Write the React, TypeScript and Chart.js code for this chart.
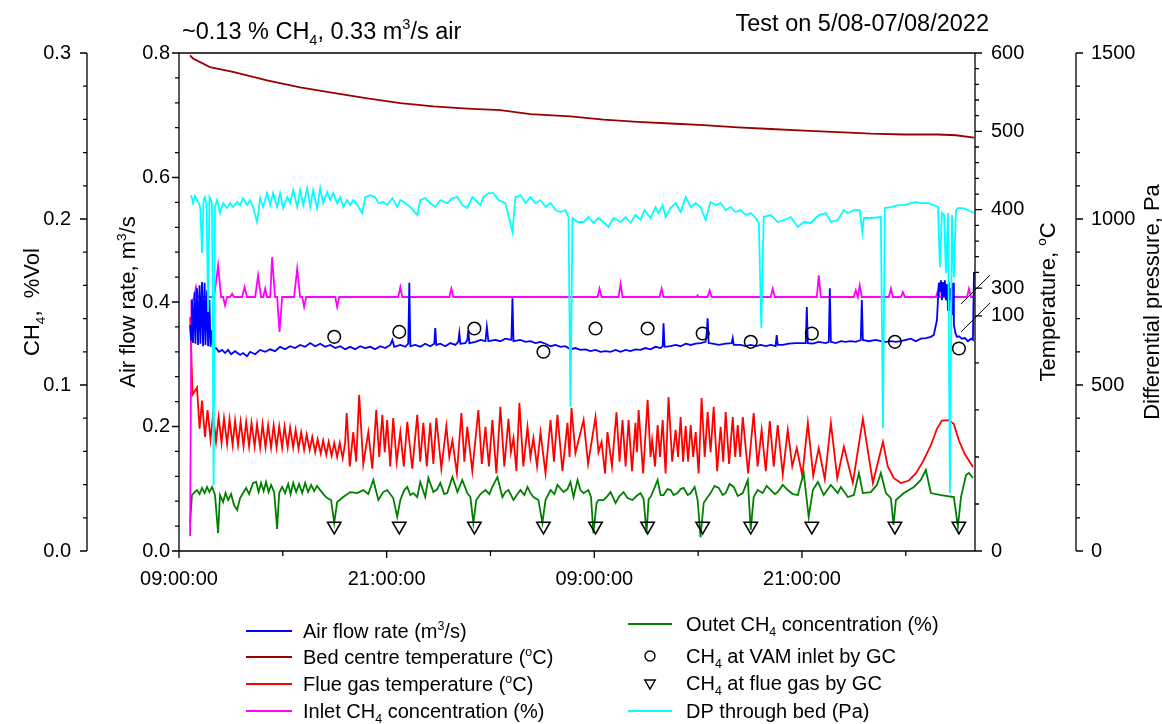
import React, { useEffect, useRef } from "react";
import { Chart, registerables, LinearScale } from "chart.js";

Chart.register(...registerables);

type Pt = [number, number]; // [hours since 09:00 on 5/08, value]

// ---------- time axis (hours elapsed since 09:00:00) ----------
const timeMajorTicks = [0, 12, 24, 36];
const timeMinorTicks = [6, 18, 30, 42];
const timeTickLabels = ["09:00:00", "21:00:00", "09:00:00", "21:00:00"];

// ---------- value axes ----------
const airTicks = [0, 0.2, 0.4, 0.6, 0.8];
const ch4Ticks = [0, 0.1, 0.2, 0.3];
const tempLowTicks = [0, 100];
const tempHighTicks = [300, 400, 500, 600];
const dpTicks = [0, 500, 1000, 1500];

// ---------- series ----------
const airFlowRate: Pt[] = [
  [0.64, 0.363], [0.7, 0.339], [0.75, 0.403], [0.81, 0.334], [0.9, 0.416], [0.95, 0.333], [1.04, 0.422], [1.1, 0.331],
  [1.19, 0.427], [1.24, 0.333], [1.33, 0.432], [1.39, 0.329], [1.48, 0.431], [1.53, 0.331], [1.62, 0.419], [1.68, 0.329],
  [1.76, 0.403], [1.82, 0.328], [1.91, 0.355], [1.97, 0.324], [2.14, 0.326], [2.31, 0.32], [2.49, 0.323], [2.66, 0.318],
  [2.84, 0.323], [3.01, 0.316], [3.24, 0.321], [3.53, 0.315], [3.7, 0.318], [3.93, 0.313], [4.11, 0.32], [4.4, 0.316],
  [4.69, 0.323], [4.98, 0.32], [5.27, 0.324], [5.55, 0.321], [5.84, 0.328], [6.13, 0.324], [6.42, 0.329], [6.71, 0.326],
  [7.0, 0.331], [7.29, 0.328], [7.58, 0.334], [7.87, 0.329], [8.16, 0.333], [8.45, 0.328], [8.74, 0.331], [9.03, 0.326],
  [9.32, 0.329], [9.6, 0.324], [9.89, 0.328], [10.18, 0.324], [10.47, 0.329], [10.76, 0.326], [11.05, 0.328], [11.34, 0.324],
  [11.63, 0.329], [11.92, 0.326], [12.21, 0.331], [12.33, 0.339], [12.44, 0.328], [12.79, 0.331], [13.08, 0.328], [13.25, 0.333],
  [13.31, 0.431], [13.37, 0.329], [13.66, 0.331], [13.94, 0.328], [14.23, 0.333], [14.52, 0.329], [14.75, 0.333], [14.81, 0.358],
  [14.87, 0.331], [15.1, 0.333], [15.39, 0.329], [15.68, 0.334], [15.97, 0.331], [16.14, 0.336], [16.2, 0.35], [16.26, 0.333],
  [16.55, 0.334], [16.66, 0.339], [16.72, 0.355], [16.78, 0.334], [17.13, 0.336], [17.42, 0.339], [17.71, 0.337], [17.79, 0.36],
  [17.88, 0.337], [18.28, 0.339], [18.57, 0.337], [18.86, 0.341], [19.21, 0.339], [19.27, 0.406], [19.33, 0.337], [19.73, 0.339],
  [20.02, 0.336], [20.31, 0.337], [20.6, 0.334], [20.89, 0.336], [21.18, 0.333], [21.47, 0.329], [21.76, 0.331], [22.04, 0.328],
  [22.33, 0.329], [22.62, 0.324], [22.91, 0.326], [23.2, 0.323], [23.49, 0.324], [23.78, 0.321], [24.07, 0.323], [24.36, 0.32],
  [24.65, 0.321], [24.94, 0.32], [25.23, 0.323], [25.52, 0.32], [25.81, 0.323], [26.09, 0.321], [26.38, 0.324], [26.67, 0.323],
  [26.96, 0.326], [27.25, 0.324], [27.54, 0.328], [27.83, 0.326], [27.95, 0.329], [28.0, 0.366], [28.06, 0.328], [28.41, 0.329],
  [28.7, 0.331], [28.99, 0.329], [29.28, 0.333], [29.57, 0.331], [29.86, 0.333], [30.14, 0.334], [30.43, 0.336], [30.49, 0.349],
  [30.55, 0.374], [30.61, 0.334], [30.84, 0.333], [31.19, 0.331], [31.59, 0.333], [31.94, 0.334], [32.0, 0.342], [32.06, 0.331],
  [32.46, 0.331], [32.75, 0.329], [33.04, 0.331], [33.33, 0.329], [33.62, 0.331], [33.91, 0.329], [34.2, 0.331], [34.48, 0.329],
  [34.54, 0.347], [34.6, 0.331], [34.89, 0.331], [35.24, 0.333], [35.64, 0.334], [35.93, 0.334], [36.22, 0.334], [36.28, 0.392],
  [36.34, 0.334], [36.63, 0.333], [36.97, 0.336], [37.38, 0.334], [37.55, 0.336], [37.61, 0.422], [37.67, 0.336], [37.96, 0.334],
  [38.25, 0.337], [38.53, 0.336], [38.82, 0.337], [39.11, 0.336], [39.4, 0.339], [39.46, 0.403], [39.52, 0.339], [39.87, 0.337],
  [40.27, 0.339], [40.56, 0.337], [40.85, 0.336], [41.14, 0.337], [41.43, 0.336], [41.72, 0.337], [42.01, 0.339], [42.3, 0.341],
  [42.58, 0.337], [42.87, 0.341], [43.16, 0.342], [43.45, 0.344], [43.62, 0.347], [43.8, 0.371], [43.91, 0.431], [43.97, 0.416],
  [44.03, 0.435], [44.09, 0.403], [44.15, 0.432], [44.21, 0.41], [44.26, 0.435], [44.32, 0.403], [44.38, 0.429], [44.44, 0.387],
  [44.49, 0.432], [44.55, 0.403], [44.61, 0.422], [44.67, 0.379], [44.73, 0.431], [44.78, 0.363], [44.87, 0.35], [44.96, 0.344],
  [45.07, 0.345], [45.25, 0.341], [45.42, 0.342], [45.59, 0.337], [45.77, 0.341], [45.88, 0.339], [45.94, 0.448], [45.97, 0.443],
];

const bedCentreTemp: Pt[] = [
  [0.64, 597], [0.81, 593], [1.79, 582], [3.12, 576], [5.09, 565], [7.0, 556], [8.91, 549], [10.88, 542], [12.79, 536],
  [14.7, 532], [16.66, 529], [18.57, 527], [20.31, 522], [22.62, 519], [24.53, 515], [26.5, 512], [28.41, 510], [30.32, 508],
  [32.29, 505], [34.2, 503], [36.1, 501], [38.07, 499], [39.98, 497], [41.89, 496], [43.86, 496], [44.9, 495], [45.94, 492],
];

const flueGasTemp: Pt[] = [
  [0.65, 99.6], [0.78, 66.5], [1.04, 69.5], [1.19, 52], [1.33, 64], [1.5, 48.5], [1.65, 60], [1.82, 47.5], [1.97, 58],
  [2.14, 46.5], [2.29, 57], [2.46, 46], [2.6, 56.5], [2.78, 45.5], [2.92, 56], [3.1, 45], [3.24, 55.5], [3.41, 45],
  [3.56, 55], [3.73, 44.5], [3.88, 55], [4.05, 44.5], [4.19, 54.5], [4.37, 44.5], [4.51, 54], [4.69, 44], [4.83, 54],
  [5.0, 44], [5.15, 53.5], [5.32, 44], [5.47, 53.5], [5.64, 44], [5.79, 53], [5.96, 44], [6.1, 53], [6.28, 44],
  [6.42, 52.5], [6.6, 44], [6.74, 51.5], [6.91, 43.5], [7.06, 50.5], [7.23, 43], [7.38, 49.5], [7.55, 43], [7.7, 48.5],
  [7.87, 42], [8.01, 47.5], [8.19, 41.5], [8.33, 47], [8.51, 41], [8.65, 46.5], [8.82, 40.5], [8.97, 46], [9.14, 40],
  [9.29, 46], [9.46, 39.5], [9.6, 46], [9.69, 58.7], [9.87, 36], [10.07, 50.6], [10.24, 38], [10.41, 66.4], [10.65, 37],
  [10.94, 50.6], [11.17, 35], [11.4, 60], [11.57, 40], [11.75, 57.9], [11.89, 42], [12.03, 55.7], [12.21, 36], [12.38, 56.6],
  [12.58, 38], [12.79, 50.6], [12.99, 36], [13.19, 54.9], [13.48, 35], [13.77, 57.9], [13.94, 38], [14.12, 54.5], [14.32, 36],
  [14.52, 54.5], [14.7, 37], [14.87, 56.6], [15.16, 35], [15.45, 53.2], [15.62, 40], [15.8, 47], [16.06, 33], [16.32, 58.7],
  [16.49, 38], [16.66, 52.8], [16.95, 34], [17.3, 60], [17.5, 37], [17.71, 52.8], [17.91, 36], [18.11, 55.7], [18.34, 33],
  [18.57, 61.3], [18.8, 36], [19.04, 56.2], [19.18, 42], [19.33, 48.1], [19.5, 34], [19.67, 63], [19.9, 36], [20.14, 52.8],
  [20.31, 40], [20.48, 48.1], [20.69, 36], [20.89, 50.6], [21.18, 33], [21.47, 55.7], [21.67, 38], [21.87, 57.9], [22.16, 34],
  [22.45, 54.5], [22.57, 40], [22.68, 60.9], [22.91, 41.7], [23.38, 55.7], [23.64, 37], [24.07, 57], [24.24, 42], [24.42, 46.4],
  [24.62, 33], [24.76, 50.6], [25.02, 36], [25.28, 59], [25.46, 38], [25.63, 55.7], [25.81, 36], [25.98, 55.7], [26.18, 34],
  [26.38, 54.5], [26.47, 42], [26.56, 60], [26.82, 33], [27.08, 64.3], [27.25, 40], [27.34, 47.2], [27.51, 36], [27.66, 53.6],
  [27.8, 40], [27.95, 55.7], [28.12, 33], [28.29, 65.5], [28.5, 38], [28.7, 51.5], [28.84, 40], [28.99, 57], [29.13, 38],
  [29.28, 53.2], [29.42, 38], [29.57, 53.6], [29.71, 40], [29.86, 50.6], [30.03, 33], [30.2, 65.1], [30.38, 40], [30.55, 59.1],
  [30.72, 42], [30.9, 61.3], [31.1, 34], [31.3, 52.8], [31.45, 38], [31.59, 59.1], [31.79, 37], [32.0, 57], [32.14, 40],
  [32.29, 53.6], [32.43, 40], [32.58, 57], [32.89, 33], [33.21, 58.7], [33.44, 36], [33.67, 51.5], [33.91, 34], [34.14, 55.3],
  [34.37, 36], [34.6, 53.6], [34.89, 32.5], [35.18, 51.5], [35.44, 36], [35.7, 43.8], [36.02, 32], [36.34, 54.5], [36.65, 32],
  [36.97, 43.8], [37.32, 30.5], [37.67, 54.5], [38.04, 31], [38.42, 44.3], [38.94, 29], [39.52, 56.2], [40.1, 29], [40.68, 46.4],
  [40.96, 36], [41.31, 31], [41.72, 28.9], [42.18, 30], [42.58, 33], [42.99, 38], [43.45, 45], [43.8, 52], [44.09, 55.5],
  [44.49, 55.7], [44.78, 54], [45.07, 47], [45.42, 41], [45.65, 38.5], [45.88, 35.7],
];

const inletCH4: Pt[] = [
  [0.64, 0.009], [0.72, 0.151], [0.87, 0.152], [0.98, 0.159], [1.1, 0.153], [2.03, 0.153], [2.26, 0.172], [2.43, 0.153],
  [2.55, 0.153], [2.66, 0.148], [2.78, 0.153], [2.95, 0.153], [3.07, 0.155], [3.18, 0.153], [3.65, 0.153], [3.79, 0.159],
  [3.93, 0.153], [4.4, 0.153], [4.57, 0.166], [4.74, 0.153], [4.86, 0.153], [4.98, 0.158], [5.09, 0.153], [5.27, 0.153],
  [5.38, 0.177], [5.55, 0.153], [5.67, 0.153], [5.81, 0.132], [5.96, 0.153], [6.65, 0.153], [6.83, 0.17], [7.0, 0.153],
  [7.12, 0.153], [7.23, 0.147], [7.35, 0.153], [9.03, 0.153], [9.14, 0.147], [9.26, 0.153], [12.67, 0.153], [12.79, 0.159],
  [12.9, 0.153], [15.62, 0.153], [15.74, 0.158], [15.85, 0.153], [24.19, 0.153], [24.3, 0.158], [24.42, 0.153], [25.4, 0.153],
  [25.52, 0.161], [25.63, 0.153], [27.77, 0.153], [27.89, 0.158], [28.0, 0.153], [29.91, 0.153], [29.97, 0.154], [30.03, 0.153],
  [30.55, 0.153], [30.67, 0.157], [30.78, 0.153], [34.2, 0.153], [34.31, 0.158], [34.43, 0.153], [36.86, 0.153], [36.97, 0.166],
  [37.09, 0.153], [38.99, 0.153], [39.11, 0.157], [39.23, 0.153], [39.34, 0.16], [39.46, 0.153], [41.02, 0.153], [41.14, 0.158],
  [41.25, 0.153], [41.72, 0.153], [41.83, 0.156], [41.95, 0.153], [43.74, 0.153], [43.86, 0.157], [43.97, 0.153], [45.54, 0.153],
  [45.65, 0.158], [45.77, 0.153], [45.94, 0.153],
];

const outletCH4: Pt[] = [
  [0.64, 0.0169], [0.75, 0.0337], [0.9, 0.0355], [1.04, 0.0367], [1.19, 0.0343], [1.33, 0.038], [1.48, 0.0349], [1.62, 0.0386],
  [1.76, 0.0355], [1.91, 0.0386], [2.08, 0.0337], [2.26, 0.0108], [2.37, 0.0337], [2.55, 0.0295], [2.69, 0.0349], [2.84, 0.0307],
  [3.01, 0.0343], [3.18, 0.0277], [3.36, 0.0247], [3.53, 0.0319], [3.7, 0.0349], [3.88, 0.038], [4.05, 0.0343], [4.28, 0.041],
  [4.46, 0.0416], [4.6, 0.0355], [4.74, 0.041], [4.89, 0.0361], [5.03, 0.0416], [5.18, 0.0355], [5.32, 0.0398], [5.5, 0.0355],
  [5.67, 0.0133], [5.79, 0.0349], [5.96, 0.0386], [6.13, 0.0349], [6.31, 0.0404], [6.45, 0.0343], [6.6, 0.041], [6.77, 0.0355],
  [6.94, 0.0404], [7.12, 0.0349], [7.29, 0.041], [7.46, 0.0355], [7.64, 0.0398], [7.81, 0.0361], [7.98, 0.0392], [8.16, 0.0367],
  [8.39, 0.0337], [8.56, 0.0319], [8.79, 0.0307], [8.97, 0.0169], [9.14, 0.0295], [9.49, 0.0325], [9.89, 0.0355], [10.3, 0.0349],
  [10.65, 0.0367], [10.94, 0.0343], [11.23, 0.0428], [11.52, 0.0307], [11.8, 0.0355], [12.03, 0.0367], [12.38, 0.0319], [12.61, 0.0205],
  [12.79, 0.0307], [13.02, 0.0367], [13.19, 0.0386], [13.37, 0.0337], [13.54, 0.0349], [13.77, 0.0325], [13.94, 0.0416], [14.23, 0.0325],
  [14.41, 0.044], [14.7, 0.0355], [14.93, 0.0373], [15.1, 0.041], [15.33, 0.0343], [15.5, 0.0349], [15.8, 0.0446], [16.09, 0.0355],
  [16.37, 0.0428], [16.66, 0.0349], [16.84, 0.0325], [17.01, 0.0169], [17.18, 0.0307], [17.42, 0.0343], [17.71, 0.0367], [17.94, 0.0343],
  [18.11, 0.0386], [18.4, 0.0446], [18.69, 0.0325], [18.86, 0.0355], [19.04, 0.0367], [19.33, 0.0307], [19.56, 0.0343], [19.73, 0.0367],
  [19.96, 0.0337], [20.14, 0.0386], [20.31, 0.0349], [20.48, 0.0325], [20.77, 0.0307], [21.0, 0.0169], [21.18, 0.0307], [21.47, 0.0367],
  [21.7, 0.0343], [21.87, 0.0398], [22.22, 0.0355], [22.45, 0.0373], [22.62, 0.0416], [22.8, 0.0325], [23.03, 0.0428], [23.2, 0.0367],
  [23.38, 0.0349], [23.66, 0.0367], [23.81, 0.0325], [23.95, 0.0108], [24.13, 0.0289], [24.24, 0.0307], [24.53, 0.0307], [24.76, 0.0331],
  [24.94, 0.0355], [25.23, 0.0289], [25.46, 0.0331], [25.69, 0.0355], [25.92, 0.0319], [26.21, 0.0307], [26.44, 0.0331], [26.67, 0.0349],
  [26.85, 0.0313], [27.02, 0.0108], [27.14, 0.0313], [27.25, 0.0325], [27.48, 0.038], [27.66, 0.0428], [27.83, 0.0337], [28.0, 0.0337],
  [28.23, 0.0373], [28.41, 0.0367], [28.58, 0.0337], [28.81, 0.0349], [28.99, 0.0373], [29.16, 0.038], [29.4, 0.0337], [29.57, 0.0349],
  [29.8, 0.0386], [29.97, 0.0307], [30.14, 0.0084], [30.32, 0.0289], [30.55, 0.0325], [30.72, 0.0349], [30.95, 0.0392], [31.19, 0.038],
  [31.42, 0.0337], [31.59, 0.0349], [31.82, 0.0404], [32.06, 0.0386], [32.29, 0.0331], [32.58, 0.0349], [32.87, 0.0428], [33.04, 0.0127],
  [33.21, 0.0325], [33.44, 0.0367], [33.73, 0.0349], [33.96, 0.0392], [34.2, 0.0367], [34.43, 0.0343], [34.6, 0.0355], [34.89, 0.0398],
  [35.18, 0.0367], [35.47, 0.0343], [35.76, 0.0337], [36.1, 0.047], [36.39, 0.0205], [36.63, 0.0367], [36.92, 0.0416], [37.26, 0.0337],
  [37.67, 0.0398], [38.07, 0.0349], [38.25, 0.0386], [38.65, 0.0325], [39.0, 0.0337], [39.29, 0.047], [39.52, 0.0349], [39.98, 0.0355],
  [40.33, 0.0398], [40.56, 0.047], [40.85, 0.0349], [41.14, 0.0319], [41.29, 0.0157], [41.43, 0.0307], [41.89, 0.0349], [42.47, 0.0386],
  [42.87, 0.0428], [43.16, 0.0488], [43.45, 0.0349], [44.03, 0.0337], [44.78, 0.0325], [45.01, 0.0145], [45.19, 0.0325], [45.48, 0.0458],
  [45.65, 0.047], [45.88, 0.044],
];

// Gas chromatograph samples
const gcTimes = [8.97, 12.73, 17.07, 21.06, 24.07, 27.08, 30.26, 33.04, 36.57, 41.37, 45.07];
const gcInletCH4 = [0.129, 0.132, 0.134, 0.12, 0.134, 0.134, 0.131, 0.126, 0.131, 0.126, 0.122];
const gcFlueCH4 = [0.015, 0.015, 0.015, 0.015, 0.015, 0.015, 0.015, 0.015, 0.015, 0.015, 0.015];

const bedDP: Pt[] = [
  [0.7, 1072], [0.81, 1048], [0.93, 1069], [1.04, 1057], [1.16, 1048], [1.24, 1027], [1.33, 898], [1.42, 1057], [1.5, 1066],
  [1.59, 1042], [1.68, 720], [1.76, 1066], [1.85, 1057], [1.91, 1042], [2.0, 199], [2.08, 1036], [2.2, 1057], [2.37, 1018],
  [2.55, 1048], [2.78, 1033], [2.95, 1048], [3.12, 1036], [3.36, 1051], [3.53, 1042], [3.7, 1063], [3.93, 1042], [4.11, 1057],
  [4.28, 1036], [4.51, 991], [4.69, 1063], [4.86, 1036], [5.09, 1078], [5.27, 1042], [5.44, 1078], [5.67, 1036], [5.84, 1078],
  [6.02, 1033], [6.25, 1066], [6.42, 1048], [6.6, 1087], [6.83, 1036], [7.0, 1087], [7.18, 1042], [7.41, 1093], [7.58, 1036],
  [7.75, 1087], [7.98, 1033], [8.16, 1093], [8.33, 1048], [8.56, 1081], [8.74, 1057], [8.91, 1078], [9.14, 1048], [9.32, 1066],
  [9.49, 1036], [9.72, 1057], [9.89, 1042], [10.07, 1057], [10.3, 1042], [10.59, 1018], [10.76, 1066], [11.05, 1072], [11.34, 1066],
  [11.52, 1048], [11.8, 1051], [12.03, 1042], [12.33, 1063], [12.61, 1036], [12.79, 1057], [13.08, 1048], [13.37, 1036], [13.77, 1012],
  [13.94, 1057], [14.23, 1063], [14.52, 1048], [14.81, 1036], [15.1, 1057], [15.5, 1048], [15.8, 1063], [16.09, 1066], [16.37, 1042],
  [16.66, 1033], [16.95, 1066], [17.13, 1057], [17.42, 1042], [17.59, 1066], [17.88, 1078], [18.17, 1078], [18.46, 1057], [18.86, 1048],
  [19.27, 961], [19.44, 1066], [19.73, 1072], [20.02, 1048], [20.31, 1066], [20.6, 1048], [20.89, 1057], [21.18, 1036], [21.47, 1048],
  [21.76, 1027], [22.04, 1021], [22.33, 1027], [22.51, 1006], [22.62, 434], [22.74, 1003], [23.03, 991], [23.38, 991], [23.66, 1006],
  [23.95, 988], [24.24, 1003], [24.53, 991], [24.82, 976], [25.11, 1003], [25.52, 991], [25.81, 1006], [26.09, 988], [26.38, 1012],
  [26.67, 997], [26.9, 1027], [27.25, 1003], [27.54, 1036], [27.71, 1018], [27.95, 1042], [28.12, 1006], [28.41, 1033], [28.7, 1048],
  [28.99, 1021], [29.28, 1066], [29.57, 1036], [29.86, 1048], [30.14, 1036], [30.43, 997], [30.72, 1051], [31.01, 1042], [31.3, 1048],
  [31.59, 1027], [31.88, 1036], [32.17, 1021], [32.46, 1027], [32.75, 1012], [33.04, 1018], [33.33, 1003], [33.51, 988], [33.65, 672],
  [33.79, 1006], [34.2, 1012], [34.6, 991], [34.95, 997], [35.35, 1006], [35.76, 976], [36.1, 991], [36.51, 988], [36.97, 1012],
  [37.38, 1018], [37.67, 991], [38.07, 997], [38.42, 1027], [38.65, 1018], [39.0, 1027], [39.34, 1027], [39.49, 961], [39.58, 1003],
  [39.98, 1003], [40.56, 1006], [40.68, 370], [40.79, 1033], [41.14, 1036], [41.55, 1042], [41.89, 1042], [42.3, 1048], [42.58, 1051],
  [42.87, 1048], [43.28, 1048], [43.62, 1042], [43.86, 1036], [43.97, 855], [44.09, 1018], [44.21, 1012], [44.32, 837], [44.44, 1018],
  [44.55, 175], [44.67, 1012], [44.78, 825], [44.9, 1027], [45.01, 1033], [45.3, 1033], [45.59, 1027], [45.94, 1018],
];

// ---------- broken temperature axis: 0-100 below the break, 300-600 above ----------
const TEMP_LOW_MAX = 100;
const TEMP_HIGH_MIN = 300;
const TEMP_MAX = 600;
const SEG_SHARE = 0.472;

function tempToDecimal(t: number) {
  if (t <= TEMP_LOW_MAX) return (t / TEMP_LOW_MAX) * SEG_SHARE;
  if (t >= TEMP_HIGH_MIN) return 1 - SEG_SHARE + ((t - TEMP_HIGH_MIN) / (TEMP_MAX - TEMP_HIGH_MIN)) * SEG_SHARE;
  return SEG_SHARE + ((t - TEMP_LOW_MAX) / (TEMP_HIGH_MIN - TEMP_LOW_MAX)) * (1 - 2 * SEG_SHARE);
}
function decimalToTemp(d: number) {
  if (d <= SEG_SHARE) return (d / SEG_SHARE) * TEMP_LOW_MAX;
  if (d >= 1 - SEG_SHARE) return TEMP_HIGH_MIN + ((d - (1 - SEG_SHARE)) / SEG_SHARE) * (TEMP_MAX - TEMP_HIGH_MIN);
  return TEMP_LOW_MAX + ((d - SEG_SHARE) / (1 - 2 * SEG_SHARE)) * (TEMP_HIGH_MIN - TEMP_LOW_MAX);
}

class BrokenTempScale extends LinearScale {
  static id = "brokenTemp";
  static defaults = LinearScale.defaults;
  getPixelForValue(value: number) {
    return this.getPixelForDecimal(tempToDecimal(value));
  }
  getValueForPixel(pixel: number) {
    return decimalToTemp(this.getDecimalForPixel(pixel));
  }
}
Chart.register(BrokenTempScale);

// ---------- drawing helpers ----------
const FONT = '"Liberation Sans", Arial, Helvetica, sans-serif';
const TICK_SIZE = 20;
const TITLE_SIZE = 23.5;
const AXIS_TITLE_SIZE = 22;
const LEGEND_SIZE = 20;

type Seg = [string, number]; // 0 normal, 1 subscript, 2 superscript

function richWidth(ctx: CanvasRenderingContext2D, segs: Seg[], size: number) {
  let w = 0;
  for (const [t, k] of segs) {
    ctx.font = `${k ? size * 0.62 : size}px ${FONT}`;
    w += ctx.measureText(t).width;
  }
  return w;
}

function drawRich(ctx: CanvasRenderingContext2D, segs: Seg[], x: number, y: number, size: number, align: string) {
  const w = richWidth(ctx, segs, size);
  let cx = align === "left" ? x : align === "center" ? x - w / 2 : x - w;
  ctx.textAlign = "left";
  ctx.textBaseline = "alphabetic";
  for (const [t, k] of segs) {
    ctx.font = `${k ? size * 0.62 : size}px ${FONT}`;
    const dy = k === 1 ? size * 0.26 : k === 2 ? -size * 0.42 : 0;
    ctx.fillText(t, cx, y + dy);
    cx += ctx.measureText(t).width;
  }
}

function drawRotated(ctx: CanvasRenderingContext2D, segs: Seg[], cx: number, cy: number, size: number) {
  ctx.save();
  ctx.translate(cx, cy);
  ctx.rotate(-Math.PI / 2);
  drawRich(ctx, segs, 0, size * 0.36, size, "center");
  ctx.restore();
}

function stepsBetween(from: number, to: number, step: number) {
  const out: number[] = [];
  const n = Math.round((to - from) / step);
  for (let i = 0; i <= n; i++) out.push(from + i * step);
  return out;
}

function vAxis(ctx: CanvasRenderingContext2D, x: number, top: number, bottom: number, majors: number[], minors: number[], dir: number) {
  ctx.beginPath();
  ctx.moveTo(x, top);
  ctx.lineTo(x, bottom);
  for (const y of minors) {
    ctx.moveTo(x, y);
    ctx.lineTo(x + dir * 4, y);
  }
  for (const y of majors) {
    ctx.moveTo(x, y);
    ctx.lineTo(x + dir * 7, y);
  }
  ctx.stroke();
}

const CH4_AXIS_X = 87;
const DP_AXIS_X = 1076;

type LegendItem = { segs: Seg[]; kind: string; color: string };
const legendLeft: LegendItem[] = [
  { segs: [["Air flow rate (m", 0], ["3", 2], ["/s)", 0]], kind: "line", color: "#0000FF" },
  { segs: [["Bed centre temperature (", 0], ["o", 2], ["C)", 0]], kind: "line", color: "#990000" },
  { segs: [["Flue gas temperature (", 0], ["o", 2], ["C)", 0]], kind: "line", color: "#FF0000" },
  { segs: [["Inlet CH", 0], ["4", 1], [" concentration (%)", 0]], kind: "line", color: "#FF00FF" },
];
const legendRight: LegendItem[] = [
  { segs: [["Outet CH", 0], ["4", 1], [" concentration (%)", 0]], kind: "line", color: "#008000" },
  { segs: [["CH", 0], ["4", 1], [" at VAM inlet by GC", 0]], kind: "circle", color: "#000" },
  { segs: [["CH", 0], ["4", 1], [" at flue gas by GC", 0]], kind: "triangle", color: "#000" },
  { segs: [["DP through bed (Pa)", 0]], kind: "line", color: "#00FFFF" },
];

function legendMark(ctx: CanvasRenderingContext2D, item: LegendItem, x0: number, x1: number, y: number) {
  ctx.save();
  if (item.kind === "line") {
    ctx.strokeStyle = item.color;
    ctx.lineWidth = 2;
    ctx.beginPath();
    ctx.moveTo(x0, y);
    ctx.lineTo(x1, y);
    ctx.stroke();
  } else if (item.kind === "circle") {
    ctx.strokeStyle = "#000";
    ctx.lineWidth = 1.4;
    ctx.beginPath();
    ctx.arc((x0 + x1) / 2, y, 5, 0, Math.PI * 2);
    ctx.stroke();
  } else {
    const cx = (x0 + x1) / 2;
    const r = 6;
    ctx.strokeStyle = "#000";
    ctx.lineWidth = 1.4;
    ctx.beginPath();
    ctx.moveTo(cx - r * 0.866, y - r * 0.5);
    ctx.lineTo(cx + r * 0.866, y - r * 0.5);
    ctx.lineTo(cx, y + r);
    ctx.closePath();
    ctx.stroke();
  }
  ctx.restore();
}

const decorations = {
  id: "decorations",
  afterDraw(chart: any) {
    const ctx: CanvasRenderingContext2D = chart.ctx;
    const { left, right, top, bottom } = chart.chartArea;
    const sx = chart.scales.x;
    const sAir = chart.scales.yAir;
    const sCH4 = chart.scales.yCH4;
    const sTemp = chart.scales.yTemp;
    const sDP = chart.scales.yDP;

    ctx.save();
    ctx.strokeStyle = "#000";
    ctx.fillStyle = "#000";
    ctx.lineWidth = 1.3;

    // frame top line
    ctx.beginPath();
    ctx.moveTo(left, top);
    ctx.lineTo(right, top);
    ctx.stroke();

    // x axis
    ctx.beginPath();
    ctx.moveTo(left, bottom);
    ctx.lineTo(right, bottom);
    for (const t of timeMajorTicks) {
      const px = sx.getPixelForValue(t);
      ctx.moveTo(px, bottom);
      ctx.lineTo(px, bottom + 7);
    }
    for (const t of timeMinorTicks) {
      const px = sx.getPixelForValue(t);
      ctx.moveTo(px, bottom);
      ctx.lineTo(px, bottom + 5);
    }
    ctx.stroke();
    ctx.font = `${TICK_SIZE}px ${FONT}`;
    ctx.textAlign = "center";
    ctx.textBaseline = "middle";
    timeMajorTicks.forEach((t, i) => ctx.fillText(timeTickLabels[i], sx.getPixelForValue(t), bottom + 28));

    // CH4 axis (outer left)
    vAxis(ctx, CH4_AXIS_X, top, bottom, ch4Ticks.map((v) => sCH4.getPixelForValue(v)),
      stepsBetween(0, 0.3, 0.02).map((v) => sCH4.getPixelForValue(v)), -1);
    ctx.font = `${TICK_SIZE}px ${FONT}`;
    ctx.textAlign = "right";
    ctx.textBaseline = "middle";
    for (const v of ch4Ticks) ctx.fillText(v.toFixed(1), CH4_AXIS_X - 16, sCH4.getPixelForValue(v));

    // air flow axis (plot left)
    vAxis(ctx, left, top, bottom, airTicks.map((v) => sAir.getPixelForValue(v)),
      stepsBetween(0, 0.8, 0.04).map((v) => sAir.getPixelForValue(v)), -1);
    ctx.textAlign = "right";
    for (const v of airTicks) ctx.fillText(v.toFixed(1), left - 9, sAir.getPixelForValue(v));

    // temperature axis (plot right, broken)
    const tempMinor = stepsBetween(0, 100, 20).concat(stepsBetween(300, 600, 20));
    vAxis(ctx, right, top, bottom, tempLowTicks.concat(tempHighTicks).map((v) => sTemp.getPixelForValue(v)),
      tempMinor.map((v) => sTemp.getPixelForValue(v)), 1);
    ctx.textAlign = "left";
    for (const v of tempLowTicks.concat(tempHighTicks)) ctx.fillText(String(v), right + 16, sTemp.getPixelForValue(v));

    // break marks on the temperature axis
    ctx.lineWidth = 1;
    ctx.beginPath();
    for (const v of [TEMP_HIGH_MIN, TEMP_LOW_MAX]) {
      const y = sTemp.getPixelForValue(v) + 2;
      ctx.moveTo(right - 14, y + 14);
      ctx.lineTo(right + 15, y - 15);
    }
    ctx.stroke();
    ctx.lineWidth = 1.3;

    // differential pressure axis (outer right)
    vAxis(ctx, DP_AXIS_X, top, bottom, dpTicks.map((v) => sDP.getPixelForValue(v)),
      stepsBetween(0, 1500, 100).map((v) => sDP.getPixelForValue(v)), 1);
    ctx.textAlign = "left";
    for (const v of dpTicks) ctx.fillText(String(v), DP_AXIS_X + 15, sDP.getPixelForValue(v));

    // axis titles
    const midY = (top + bottom) / 2;
    drawRotated(ctx, [["CH", 0], ["4", 1], [",  %Vol", 0]], 31, midY, AXIS_TITLE_SIZE);
    drawRotated(ctx, [["Air flow rate, m", 0], ["3", 2], ["/s", 0]], 127, midY, AXIS_TITLE_SIZE);
    drawRotated(ctx, [["Temperature, ", 0], ["o", 2], ["C", 0]], 1047, midY, AXIS_TITLE_SIZE);
    drawRotated(ctx, [["Differential pressure, Pa", 0]], 1151, midY, AXIS_TITLE_SIZE);

    // headings
    drawRich(ctx, [["~0.13 % CH", 0], ["4", 1], [", 0.33 m", 0], ["3", 2], ["/s air", 0]], 182, 39, TITLE_SIZE, "left");
    drawRich(ctx, [["Test on 5/08-07/08/2022", 0]], 989, 31, TITLE_SIZE, "right");

    // legend
    const leftRows = [638, 664, 691, 718];
    const rightRows = [631, 663, 690, 718];
    legendLeft.forEach((it, i) => {
      legendMark(ctx, it, 246, 292, leftRows[i] - 7);
      drawRich(ctx, it.segs, 303, leftRows[i], LEGEND_SIZE, "left");
    });
    legendRight.forEach((it, i) => {
      legendMark(ctx, it, 628, 672, rightRows[i] - 7);
      drawRich(ctx, it.segs, 686, rightRows[i], LEGEND_SIZE, "left");
    });

    ctx.restore();
  },
};

function toXY(points: Pt[]) {
  return points.map(([x, y]) => ({ x, y }));
}

function lineSet(label: string, points: Pt[], color: string, axis: string, order: number) {
  return {
    type: "line",
    label,
    data: toXY(points),
    yAxisID: axis,
    borderColor: color,
    backgroundColor: color,
    borderWidth: 1.8,
    pointRadius: 0,
    tension: 0,
    fill: false,
    order,
  };
}

export default function App() {
  const canvasRef = useRef<HTMLCanvasElement | null>(null);

  useEffect(() => {
    if (!canvasRef.current) return;
    const chart = new Chart(canvasRef.current, {
      type: "line",
      data: {
        datasets: [
          lineSet("Air flow rate (m3/s)", airFlowRate, "#0000FF", "yAir", 3),
          lineSet("Bed centre temperature (oC)", bedCentreTemp, "#990000", "yTemp", 7),
          lineSet("Flue gas temperature (oC)", flueGasTemp, "#FF0000", "yTemp", 6),
          lineSet("Inlet CH4 concentration (%)", inletCH4, "#FF00FF", "yCH4", 4),
          lineSet("Outet CH4 concentration (%)", outletCH4, "#008000", "yCH4", 5),
          {
            type: "line",
            label: "CH4 at VAM inlet by GC",
            data: gcTimes.map((t, i) => ({ x: t, y: gcInletCH4[i] })),
            yAxisID: "yCH4",
            showLine: false,
            pointStyle: "circle",
            pointRadius: 6.3,
            pointBorderWidth: 1.5,
            pointBorderColor: "#000",
            pointBackgroundColor: "rgba(0,0,0,0)",
            order: 0,
          },
          {
            type: "line",
            label: "CH4 at flue gas by GC",
            data: gcTimes.map((t, i) => ({ x: t, y: gcFlueCH4[i] })),
            yAxisID: "yCH4",
            showLine: false,
            pointStyle: "triangle",
            rotation: 180,
            pointRadius: 7.8,
            pointBorderWidth: 1.5,
            pointBorderColor: "#000",
            pointBackgroundColor: "rgba(0,0,0,0)",
            order: 0,
          },
          lineSet("DP through bed (Pa)", bedDP, "#00FFFF", "yDP", 2),
        ] as any,
      },
      options: {
        responsive: false,
        animation: false,
        devicePixelRatio: 1,
        layout: { padding: { left: 179, top: 53, right: 187, bottom: 173 } },
        plugins: { legend: { display: false }, tooltip: { enabled: false }, title: { display: false } },
        scales: {
          x: { type: "linear", min: 0, max: 46, display: false },
          yAir: { type: "linear", min: 0, max: 0.8, display: false },
          yCH4: { type: "linear", min: 0, max: 0.3, display: false },
          yTemp: { type: "brokenTemp", min: 0, max: 600, display: false } as any,
          yDP: { type: "linear", min: 0, max: 1500, display: false },
        },
      },
      plugins: [decorations],
    } as any);
    return () => chart.destroy();
  }, []);

  return (
    <div style={{ position: "absolute", left: 0, top: 0, width: 1162, height: 724, background: "#fff" }}>
      <canvas ref={canvasRef} width={1162} height={724} style={{ display: "block", width: 1162, height: 724 }} />
    </div>
  );
}
